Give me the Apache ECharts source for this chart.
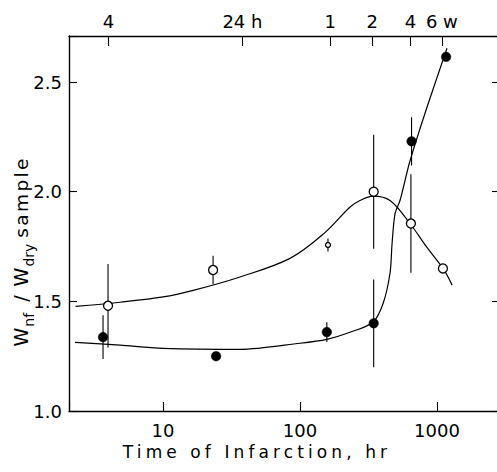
<!DOCTYPE html>
<html>
<head>
<meta charset="utf-8">
<script src="https://cdn.jsdelivr.net/npm/echarts@6/dist/echarts.min.js"></script>
<style>
  html, body { margin: 0; padding: 0; background: #fff; }
  #chart { width: 497px; height: 472px; }
  #chart text[style*="17px"] { letter-spacing: 4.1px; }
  #chart text[style*="18.5px"] { letter-spacing: 2.4px; }
</style>
</head>
<body>
<div id="chart"></div>
<script>
// ---- data ----
const xMin = 2.06, xMax = 2835;        // hours (log axis)
const yMin = 1.0, yMax = 2.71;

const topTickHours  = [4, 38, 166, 336, 640, 1085];
const topTickLabels = ['4', '24 h', '1', '2', '4', '6 w'];

// open circles
const openX   = [3.97, 23.2, 160, 345, 645, 1105];
const openY   = [1.48, 1.643, 1.757, 2.0, 1.855, 1.65];
const openErr = [0.19, 0.065, 0.03, 0.26, 0.225, 0];

// filled circles
const fillX   = [3.65, 24.4, 157, 345, 652, 1165];
const fillY   = [1.337, 1.25, 1.36, 1.40, 2.23, 2.615];
const fillErr = [0.10, 0.02, 0.045, 0.20, 0.11, 0.02];

// fitted curves
const openCurveX = [2.3, 4.85, 10, 16.6, 36, 84.5, 150, 232, 274, 341, 454, 635, 845, 1107, 1290];
const openCurveY = [1.477, 1.496, 1.52, 1.55, 1.61, 1.696, 1.81, 1.93, 1.96, 1.98, 1.96, 1.855, 1.746, 1.65, 1.574];

const fillCurveX = [2.28, 4.85, 10, 36.5, 100, 157, 232, 341, 404, 454, 470, 494, 537, 635, 845, 1183];
const fillCurveY = [1.313, 1.30, 1.286, 1.281, 1.309, 1.327, 1.359, 1.405, 1.49, 1.628, 1.764, 1.90, 1.96, 2.14, 2.385, 2.654];

// ---- chart ----
const zip = (a, b) => a.map((v, i) => [v, b[i]]);
const ink = '#000';
const font = 'DejaVu Sans';

const chart = echarts.init(document.getElementById('chart'), null, { renderer: 'svg' });

function errRender(params, api) {
  const x = api.value(0), y = api.value(1), e = api.value(2);
  if (!e) return null;
  const p1 = api.coord([x, y - e]);
  const p2 = api.coord([x, y + e]);
  return {
    type: 'line',
    shape: { x1: p1[0], y1: p1[1], x2: p2[0], y2: p2[1] },
    style: { stroke: ink, lineWidth: 1.1 }
  };
}

const isHalf = v => Math.abs(v * 2 - Math.round(v * 2)) < 1e-6;

chart.setOption({
  animation: false,
  backgroundColor: '#fff',
  grid: { left: 69, right: -2, top: 36, bottom: 61, containLabel: false, outerBoundsMode: 'none' },
  xAxis: [
    {
      type: 'log', logBase: 10, min: xMin, max: xMax, position: 'bottom',
      axisLine: { show: true, lineStyle: { color: ink, width: 1.4 } },
      axisTick: { show: true, inside: true, length: 9, lineStyle: { color: ink, width: 1.1 } },
      minorTick: { show: false },
      splitLine: { show: false },
      axisLabel: {
        color: ink, fontFamily: font, fontSize: 18, margin: 10,
        formatter: v => {
          const l = Math.log10(v);
          return Math.abs(l - Math.round(l)) < 1e-6 ? String(Math.round(v)) : '';
        }
      },
      name: 'Time of Infarction, hr', nameLocation: 'middle', nameGap: 32, nameMoveOverlap: false,
      nameTextStyle: { color: ink, fontFamily: font, fontSize: 17, padding: [0, 54, 0, 0] }
    },
    {
      type: 'value', position: 'top',
      min: Math.log10(xMin), max: Math.log10(xMax),
      axisLine: { show: true, lineStyle: { color: ink, width: 1.4 } },
      axisTick: { show: true, inside: true, length: 10, lineStyle: { color: ink, width: 1.1 },
                  customValues: topTickHours.map(h => Math.log10(h)) },
      splitLine: { show: false },
      axisLabel: {
        color: ink, fontFamily: font, fontSize: 18, margin: 6,
        customValues: topTickHours.map(h => Math.log10(h)),
        formatter: v => {
          const i = topTickHours.findIndex(h => Math.abs(Math.log10(h) - v) < 1e-6);
          return i >= 0 ? topTickLabels[i] : '';
        }
      }
    }
  ],
  yAxis: [
    {
      type: 'value', min: yMin, max: yMax, interval: 0.5, position: 'left',
      axisLine: { show: true, lineStyle: { color: ink, width: 1.4 } },
      axisTick: { show: true, inside: true, length: 8, lineStyle: { color: ink, width: 1.1 } },
      splitLine: { show: false },
      axisLabel: {
        color: ink, fontFamily: font, fontSize: 18, margin: 7,
        formatter: v => isHalf(v) ? v.toFixed(1) : ''
      },
      name: '{w|W}{s|nf}{p| / }{w|W}{s|dry}{t| sample}',
      nameLocation: 'middle', nameGap: 33, nameMoveOverlap: false,
      nameTextStyle: {
        color: ink, fontFamily: font, padding: [0, 64, 0, 0],
        rich: {
          w: { fontSize: 19, fontFamily: font, color: ink, lineHeight: 22 },
          p: { fontSize: 19, fontFamily: font, color: ink, lineHeight: 22, padding: [0, 3, 0, 3] },
          t: { fontSize: 18.5, fontFamily: font, color: ink, lineHeight: 22, padding: [0, 0, 0, 4] },
          s: { fontSize: 14, fontFamily: font, color: ink, lineHeight: 30, verticalAlign: 'bottom', padding: [0, 2, 0, 1] }
        }
      }
    },
    {
      type: 'value', min: yMin, max: yMax, interval: 0.5, position: 'right',
      axisLine: { show: true, lineStyle: { color: ink, width: 1.4 } },
      axisTick: { show: true, inside: true, length: 7, lineStyle: { color: ink, width: 1.1 } },
      splitLine: { show: false },
      axisLabel: { show: false }
    }
  ],
  series: [
    {
      type: 'line', xAxisIndex: 0, yAxisIndex: 0, data: zip(openCurveX, openCurveY),
      showSymbol: false, smooth: 0.35, lineStyle: { color: ink, width: 1.2 }, z: 2
    },
    {
      type: 'line', xAxisIndex: 0, yAxisIndex: 0, data: zip(fillCurveX, fillCurveY),
      showSymbol: false, smooth: 0.3, lineStyle: { color: ink, width: 1.2 }, z: 2
    },
    {
      type: 'custom', xAxisIndex: 0, yAxisIndex: 0,
      data: openX.map((x, i) => [x, openY[i], openErr[i]]),
      renderItem: errRender, z: 3
    },
    {
      type: 'custom', xAxisIndex: 0, yAxisIndex: 0,
      data: fillX.map((x, i) => [x, fillY[i], fillErr[i]]),
      renderItem: errRender, z: 3
    },
    {
      type: 'scatter', xAxisIndex: 0, yAxisIndex: 0, data: zip(openX, openY),
      symbol: 'circle', symbolSize: (v, p) => p.dataIndex === 2 ? 5 : 9,
      itemStyle: { color: '#fff', borderColor: ink, borderWidth: 1.3, opacity: 1 }, z: 5
    },
    {
      type: 'scatter', xAxisIndex: 0, yAxisIndex: 0, data: zip(fillX, fillY),
      symbol: 'circle', symbolSize: 9.5,
      itemStyle: { color: ink, borderColor: ink, borderWidth: 0.5, opacity: 1 }, z: 5
    }
  ]
});
</script>
</body>
</html>
